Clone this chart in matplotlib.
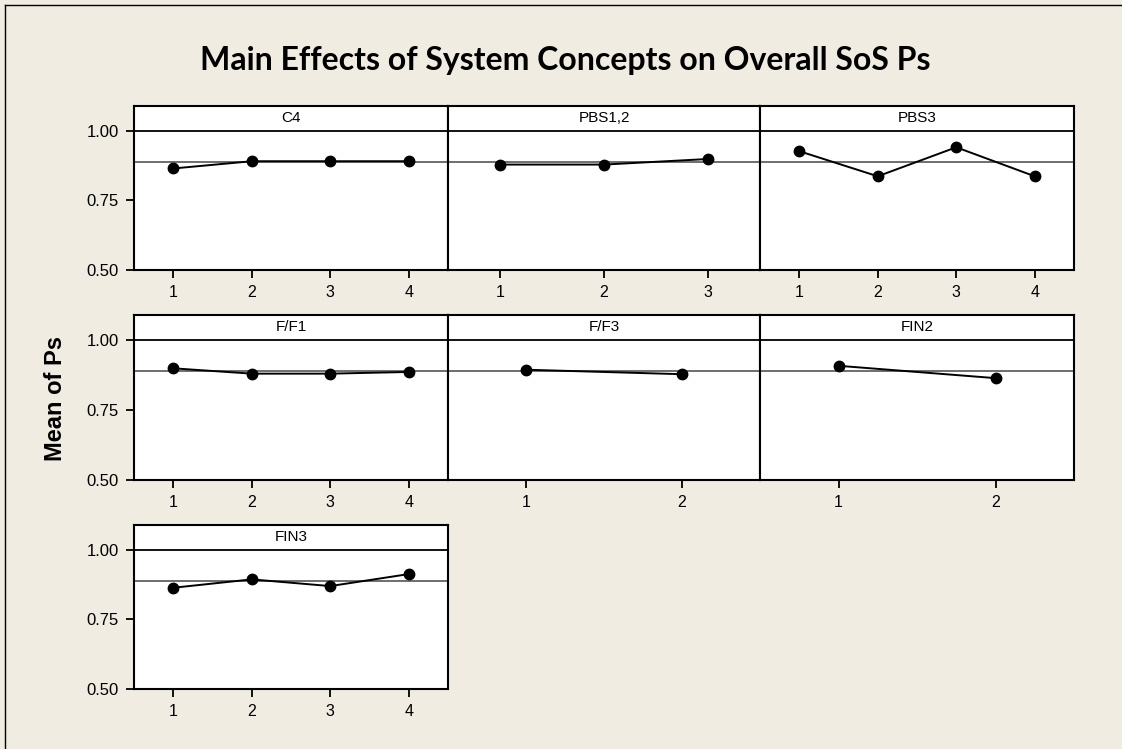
import matplotlib
matplotlib.use('Agg')
from matplotlib import pyplot as plt
from matplotlib.lines import Line2D

# factors and their level means
factors = ['C4', 'PBS1,2', 'PBS3', 'F/F1', 'F/F3', 'FIN2', 'FIN3']
c4 = [0.864, 0.890, 0.890, 0.890]
pbs12 = [0.878, 0.878, 0.898]
pbs3 = [0.926, 0.836, 0.940, 0.836]
ff1 = [0.898, 0.879, 0.879, 0.885]
ff3 = [0.893, 0.877]
fin2 = [0.907, 0.863]
fin3 = [0.863, 0.893, 0.869, 0.912]
means = [c4, pbs12, pbs3, ff1, ff3, fin2, fin3]
grand_mean = 0.887
yticks = [0.50, 0.75, 1.00]

bg = '#f0ece2'
W, H = 1122, 749
fig = plt.figure(figsize=(W / 100, H / 100), dpi=100, facecolor=bg)

# left/top frame of the graph window
fig.add_artist(Line2D([5 / W, 5 / W], [0, 1 - 5 / H], color='black', lw=1))
fig.add_artist(Line2D([5 / W, 1], [1 - 5 / H, 1 - 5 / H], color='black', lw=1))

fig.text(565 / W, 1 - 70 / H, 'Main Effects of System Concepts on Overall SoS Ps',
         ha='center', va='baseline', fontsize=23, fontweight='bold', family='Lato')
fig.text(55 / W, 1 - 398 / H, 'Mean of Ps', rotation=90, ha='center', va='center',
         fontsize=17, fontweight='bold', family='Liberation Sans')

col_x = [134, 448, 760]
col_w = [314, 312, 314]
row_top = [106, 315, 525]
row_bot = [270, 480, 689]
ytop = 1.088

for i, name in enumerate(factors):
    r, c = divmod(i, 3)
    ax = fig.add_axes([col_x[c] / W, 1 - row_bot[r] / H,
                       col_w[c] / W, (row_bot[r] - row_top[r]) / H])
    ax.set_facecolor('white')
    vals = means[i]
    lv = list(range(1, len(vals) + 1))
    ax.axhline(grand_mean, color='#555555', lw=1.2, zorder=1)
    ax.axhline(1.0, color='black', lw=1.3, zorder=1)
    ax.plot(lv, vals, color='black', lw=1.4, marker='o', markersize=7.5, zorder=3)
    ax.set_xlim(0.5, len(vals) + 0.5)
    ax.set_ylim(0.5, ytop)
    ax.set_xticks(lv)
    ax.set_xticklabels([str(v) for v in lv], family='Liberation Sans', fontsize=11.5)
    ax.set_yticks(yticks)
    ax.tick_params(axis='both', direction='out', length=6, width=1.3, color='black', pad=5)
    if c == 0:
        ax.set_yticklabels(['%.2f' % v for v in yticks], family='Liberation Sans', fontsize=12)
    else:
        ax.tick_params(axis='y', length=0, labelleft=False)
    for s in ax.spines.values():
        s.set_linewidth(1.5)
        s.set_color('black')
    # strip label above the 1.00 line
    ax.text((len(vals) + 1) / 2, (1.0 + ytop) / 2, name, ha='center', va='center',
            fontsize=11, family='Liberation Sans')

fig.savefig('out.png', dpi=100, facecolor=bg)
